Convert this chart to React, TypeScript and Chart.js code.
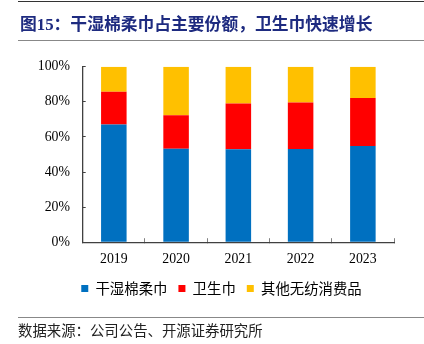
import React, { useEffect, useRef } from "react";
import { Chart, registerables } from "chart.js";

Chart.register(...registerables);

const categories = ["2019", "2020", "2021", "2022", "2023"];
const wipes = [67.0, 53.2, 53.0, 53.1, 54.8];
const pads = [18.7, 19.2, 26.0, 26.5, 27.4];
const others = [14.3, 27.6, 21.0, 20.4, 17.8];
const seriesNames = ["干湿棉柔巾", "卫生巾", "其他无纺消费品"];
const yTicks = [0, 20, 40, 60, 80, 100];

const CJK = '"Noto Sans CJK SC", sans-serif';
const SERIF = '"Liberation Serif", "Times New Roman", serif';

const legendShift = {
  id: "legendShift",
  afterLayout(chart: any) {
    if (chart.legend) {
      chart.legend.left += 24.5;
      chart.legend.right += 24.5;
    }
  },
};

export default function App() {
  const ref = useRef<HTMLCanvasElement | null>(null);

  useEffect(() => {
    if (!ref.current) return;
    const chart = new Chart(ref.current, {
      type: "bar",
      data: {
        labels: categories,
        datasets: [
          { label: seriesNames[0], data: wipes, backgroundColor: "#0070C0" },
          { label: seriesNames[1], data: pads, backgroundColor: "#FF0000" },
          { label: seriesNames[2], data: others, backgroundColor: "#FFC000" },
        ],
      },
      plugins: [legendShift],
      options: {
        animation: false,
        responsive: false,
        maintainAspectRatio: false,
        layout: { padding: { left: 0, right: 30, top: 66.7, bottom: 38.3 } },
        datasets: { bar: { barPercentage: 0.41, categoryPercentage: 1 } },
        plugins: {
          legend: {
            position: "bottom",
            labels: {
              boxWidth: 7,
              boxHeight: 7,
              padding: 11,
              color: "#000",
              font: { family: CJK, size: 14.4 },
            },
          },
          tooltip: { enabled: false },
        },
        scales: {
          x: {
            stacked: true,
            afterFit: (s: any) => {
              s.height = 28.1;
            },
            grid: {
              display: true,
              drawOnChartArea: false,
              drawTicks: true,
              tickLength: -4,
              color: "#808080",
              offset: true,
            },
            border: { display: true, color: "#404040", width: 1.3 },
            ticks: {
              color: "#000",
              padding: 12.8,
              font: { family: SERIF, size: 13.8 },
            },
          },
          y: {
            stacked: true,
            min: 0,
            max: 100,
            afterFit: (s: any) => {
              s.width = 82.7;
            },
            afterBuildTicks: (s: any) => {
              s.ticks = yTicks.map((v) => ({ value: v }));
            },
            grid: {
              display: true,
              drawOnChartArea: false,
              drawTicks: true,
              tickLength: -3,
              color: "#404040",
            },
            border: { display: true, color: "#404040", width: 1.3 },
            ticks: {
              color: "#000",
              padding: 15.7,
              font: { family: SERIF, size: 13.8 },
              callback: (v: any) => v + "%",
            },
          },
        },
      },
    });
    return () => chart.destroy();
  }, []);

  return (
    <div
      style={{
        position: "fixed",
        left: 0,
        top: 0,
        width: 424,
        height: 344,
        background: "#fff",
        overflow: "hidden",
      }}
    >
      <canvas
        ref={ref}
        width={424}
        height={344}
        style={{ position: "absolute", left: 0, top: 0, width: 424, height: 344 }}
      />
      <div
        style={{
          position: "absolute",
          left: 18,
          right: 0,
          top: 0.5,
          height: 1.5,
          background: "#333",
        }}
      />
      <div
        style={{
          position: "absolute",
          left: 20,
          top: 14,
          fontFamily: '"Liberation Serif", "Noto Sans CJK SC", serif',
          fontWeight: 700,
          fontSize: 16.8,
          lineHeight: "22px",
          color: "#1E2B80",
          whiteSpace: "nowrap",
        }}
      >
        图15：干湿棉柔巾占主要份额，卫生巾快速增长
      </div>
      <div
        style={{
          position: "absolute",
          left: 18,
          right: 0,
          top: 39.5,
          height: 1.5,
          background: "#888",
        }}
      />
      <div
        style={{
          position: "absolute",
          left: 18,
          right: 0,
          top: 316.5,
          height: 1.5,
          background: "#888",
        }}
      />
      <div
        style={{
          position: "absolute",
          left: 18,
          top: 320,
          fontFamily: CJK,
          fontSize: 14.4,
          lineHeight: "20px",
          color: "#222",
          whiteSpace: "nowrap",
        }}
      >
        数据来源：公司公告、开源证券研究所
      </div>
    </div>
  );
}
